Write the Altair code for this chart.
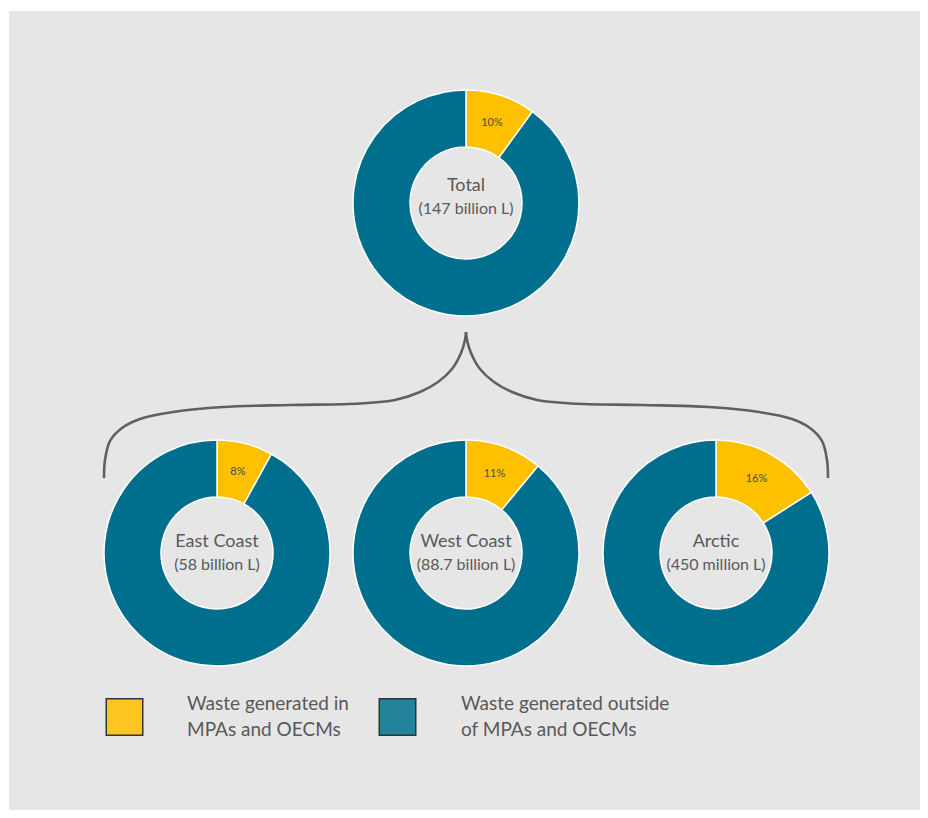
import altair as alt
import pandas as pd

# ---------------- data ----------------
regions = ["Total", "East Coast", "West Coast", "Arctic"]
volumes = ["(147 billion L)", "(58 billion L)", "(88.7 billion L)", "(450 million L)"]
share_inside = [10, 8, 11, 16]          # % of waste generated in MPAs and OECMs
parts = ["inside", "outside"]
legend_labels = ["Waste generated in\nMPAs and OECMs",
                 "Waste generated outside\nof MPAs and OECMs"]

# ---------------- layout / style ----------------
W, H = 911, 799
X0, Y0 = 9, 11                      # page position of the grey panel
centre_x = [466, 217, 466, 716]
centre_y = [203, 553, 553, 553]
title_dy = [-12, -6, -6, -6]
sub_dy = [11, 17, 17, 17]
R_IN, R_OUT, R_LAB = 56, 113, 84
slice_colors = ["#ffc000", "#006f8e"]
swatch_colors = ["#fcc522", "#23839b"]
legend_sq_x = [124.5, 397.5]
legend_txt_x = [187, 461]
legend_sq_y = 717
legend_txt_y = 710
text_grey = "#595959"
FONT = "Lato"

# brace outline (left half, from left end up to tip); right half mirrored
brace_half = [(104, 478), (105, 460), (110, 441), (122, 428), (140, 419),
              (173, 412), (223, 407), (290, 405), (360, 403.5), (395, 400),
              (420, 392), (438, 382), (452, 369), (461, 353), (465, 340), (466, 332)]
MIRROR = 932

# ---------------- tables ----------------
rows = []
for i, r in enumerate(regions):
    p = share_inside[i]
    rows.append(dict(region=r, part="inside", start=0, end=p, mid=p / 2,
                     x=centre_x[i], y=centre_y[i], pct=f"{p}%"))
    rows.append(dict(region=r, part="outside", start=p, end=100, mid=(p + 100) / 2,
                     x=centre_x[i], y=centre_y[i], pct=""))
slices = pd.DataFrame(rows)

centres = pd.DataFrame(dict(
    region=regions, volume=volumes,
    x=centre_x,
    ty=[cy + d for cy, d in zip(centre_y, title_dy)],
    sy=[cy + d for cy, d in zip(centre_y, sub_dy)],
))

brace_rows = []
for k, (bx, by) in enumerate(brace_half):
    brace_rows.append(dict(side="L", order=k, x=bx, y=by))
    brace_rows.append(dict(side="R", order=k, x=MIRROR - bx, y=by))
brace = pd.DataFrame(brace_rows)

legend = pd.DataFrame(dict(part=parts, label=legend_labels, swatch=swatch_colors,
                           x=legend_sq_x, tx=legend_txt_x,
                           y=[legend_sq_y] * 2, ty=[legend_txt_y] * 2))

# ---------------- scales ----------------
xs = alt.Scale(domain=[X0, X0 + W], range=[0, W], nice=False, zero=False)
ys = alt.Scale(domain=[Y0, Y0 + H], range=[0, H], nice=False, zero=False)
ts = alt.Scale(domain=[0, 100], range=[0, 6.283185307179586])

arcs = alt.Chart(slices).mark_arc(
    innerRadius=R_IN, outerRadius=R_OUT, stroke="white", strokeWidth=1.5
).encode(
    x=alt.X("x:Q", scale=xs, axis=None),
    y=alt.Y("y:Q", scale=ys, axis=None),
    theta=alt.Theta("start:Q", scale=ts, stack=None),
    theta2="end:Q",
    color=alt.Color("part:N", scale=alt.Scale(domain=parts, range=slice_colors), legend=None),
)

pct_text = alt.Chart(slices).mark_text(
    radius=R_LAB, font=FONT, fontSize=11, color="#4a4a4a", align="center", baseline="middle"
).encode(
    x=alt.X("x:Q", scale=xs, axis=None),
    y=alt.Y("y:Q", scale=ys, axis=None),
    theta=alt.Theta("mid:Q", scale=ts, stack=None),
    text="pct:N",
)

titles = alt.Chart(centres).mark_text(
    font=FONT, fontSize=18, color=text_grey, align="center", baseline="alphabetic"
).encode(
    x=alt.X("x:Q", scale=xs, axis=None),
    y=alt.Y("ty:Q", scale=ys, axis=None),
    text="region:N",
)

subs = alt.Chart(centres).mark_text(
    font=FONT, fontSize=16, color=text_grey, align="center", baseline="alphabetic"
).encode(
    x=alt.X("x:Q", scale=xs, axis=None),
    y=alt.Y("sy:Q", scale=ys, axis=None),
    text="volume:N",
)

brace_line = alt.Chart(brace).mark_line(
    color="#606060", strokeWidth=2.6, interpolate="catmull-rom"
).encode(
    x=alt.X("x:Q", scale=xs, axis=None),
    y=alt.Y("y:Q", scale=ys, axis=None),
    detail="side:N",
    order="order:Q",
)

swatches = alt.Chart(legend).mark_square(
    size=37 * 36, filled=True, stroke="#333333", strokeWidth=1.5, opacity=1
).encode(
    x=alt.X("x:Q", scale=xs, axis=None),
    y=alt.Y("y:Q", scale=ys, axis=None),
    fill=alt.Fill("swatch:N", scale=None),
)

legend_text = alt.Chart(legend).mark_text(
    font=FONT, fontSize=19, color=text_grey, align="left", baseline="alphabetic",
    lineBreak="\n", lineHeight=26
).encode(
    x=alt.X("tx:Q", scale=xs, axis=None),
    y=alt.Y("ty:Q", scale=ys, axis=None),
    text="label:N",
)

chart = alt.layer(
    brace_line, arcs, pct_text, titles, subs, swatches, legend_text
).properties(
    width=W, height=H,
    autosize=alt.AutoSizeParams(type="none"),
    padding={"left": 1, "top": 3, "right": 0, "bottom": 0},
    background="white",
).configure_view(fill="#e6e6e6", strokeWidth=0)

chart.save("out.html", embed_options={"renderer": "svg", "actions": False})
